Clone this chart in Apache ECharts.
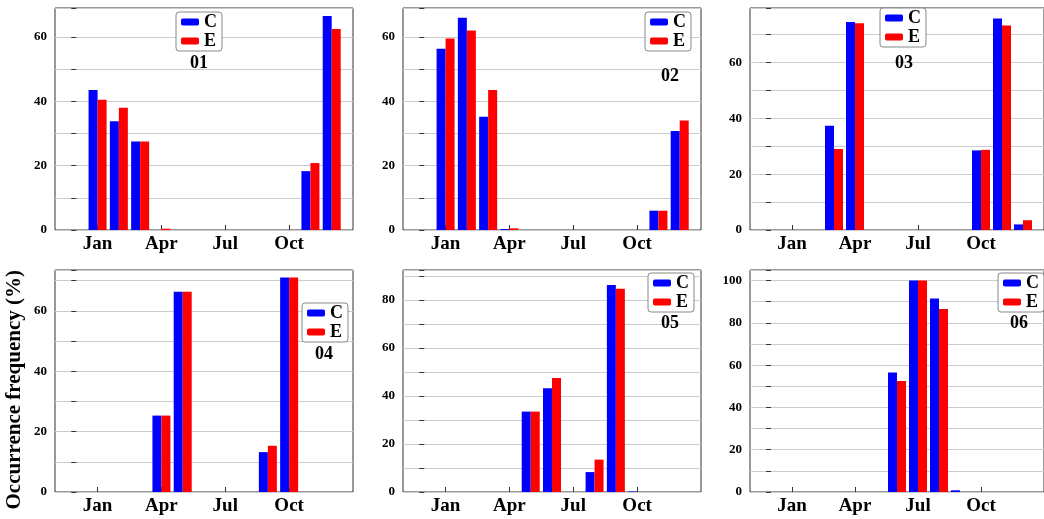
<!DOCTYPE html>
<html>
<head>
<meta charset="UTF-8">
<script src="https://cdn.jsdelivr.net/npm/echarts@6/dist/echarts.min.js"></script>
<style>body{margin:0;background:#fff}#c{width:1044px;height:519px}</style>
</head>
<body>
<div id="c"></div>
<script>
// month index 1..12, values per panel
const months = [1,2,3,4,5,6,7,8,9,10,11,12];
const tickMonths = [1,4,7,10];
const tickNames = {1:'Jan',4:'Apr',7:'Jul',10:'Oct'};
const panelNames = ['01','02','03','04','05','06'];
const c01 = [43.5,33.8,27.5,0,0,0,0,0,0,0,18.3,66.5];
const e01 = [40.5,38,27.5,0.4,0,0,0,0,0,0,20.8,62.5];
const c02 = [56.3,66,35.2,0.3,0,0,0,0,0,0,6,30.8];
const e02 = [59.5,62,43.5,0.5,0,0,0,0,0,0,6,34];
const c03 = [0,0,37.3,74.5,0,0,0,0,0,28.5,75.7,2];
const e03 = [0,0,29,74,0,0,0,0,0,28.7,73.2,3.5];
const c04 = [0,0,0,25.3,66.3,0,0,0,13.2,71,0,0];
const e04 = [0,0,0,25.3,66.3,0,0,0,15.3,71,0,0];
const c05 = [0,0,0,0,33.5,43.2,0,8.3,86.3,0.2,0,0];
const e05 = [0,0,0,0,33.5,47.5,0,13.5,84.7,0,0,0];
const c06 = [0,0,0,0,0,56.5,100,91.5,0.8,0,0,0];
const e06 = [0,0,0,0,0,52.5,100,86.5,0,0,0,0];
const cVals = [c01,c02,c03,c04,c05,c06];
const eVals = [e01,e02,e03,e04,e05,e06];
const yMax = [69,69,79.5,73.5,92.5,105];

const font = 'Liberation Serif';
const lefts = [55,403,750];
const tops = [8,270];
const legendPos = [[176,12],[645,12],[880,8],[302,303],[648,273],[998,273]];
const labelPos = [[202,63],[673,76],[907,63],[327,354],[673,323],[1022,323]];

const grid=[],xAxis=[],yAxis=[],series=[],legend=[],graphic=[];
for (let i=0;i<6;i++){
  grid.push({left:lefts[i%3],top:tops[Math.floor(i/3)],width:298,height:222,
    show:true,borderColor:'#333',borderWidth:1});
  xAxis.push({type:'value',gridIndex:i,min:-1,max:13,
    axisLine:{show:false},splitLine:{show:false},
    axisTick:{show:true,inside:true,length:5,customValues:tickMonths,lineStyle:{color:'#333'}},
    axisLabel:{customValues:tickMonths,formatter:v=>tickNames[v]||'',
      fontFamily:font,fontWeight:'bold',fontSize:19,color:'#000',margin:5}});
  yAxis.push({type:'value',gridIndex:i,min:0,max:yMax[i],interval:10,
    axisLine:{show:false},
    axisTick:{show:true,length:5,lineStyle:{color:'#333'}},
    axisLabel:{formatter:v=>v%20===0?v:'',fontFamily:font,fontWeight:'bold',fontSize:13,color:'#000'},
    splitLine:{show:true,lineStyle:{color:'#ccc'}}});
  series.push({name:'C',type:'bar',xAxisIndex:i,yAxisIndex:i,barWidth:9,barGap:'0%',
    itemStyle:{color:'#0000ff'},data:months.map((m,k)=>[m,cVals[i][k]])});
  series.push({name:'E',type:'bar',xAxisIndex:i,yAxisIndex:i,barWidth:9,barGap:'0%',
    itemStyle:{color:'#ff0000'},data:months.map((m,k)=>[m,eVals[i][k]])});
  legend.push({data:['C','E'],orient:'vertical',left:legendPos[i][0],top:legendPos[i][1],
    itemWidth:18,itemHeight:7,itemGap:1,padding:[1,5,1,5],
    backgroundColor:'#fff',borderColor:'#888',borderWidth:1,borderRadius:3,
    textStyle:{fontFamily:font,fontWeight:'bold',fontSize:18,color:'#000',lineHeight:18}});
  graphic.push({type:'text',left:labelPos[i][0]-12,top:labelPos[i][1]-9,z:100,
    style:{text:panelNames[i],font:'bold 18px "Liberation Serif"',fill:'#000'}});
}
graphic.push({type:'text',left:4,top:270,rotation:Math.PI/2,
  style:{text:'Occurrence frequency (%)',font:'bold 21px "Liberation Serif"',fill:'#000'}});

const chart = echarts.init(document.getElementById('c'));
chart.setOption({animation:false,grid,xAxis,yAxis,series,legend,graphic});
</script>
</body>
</html>
